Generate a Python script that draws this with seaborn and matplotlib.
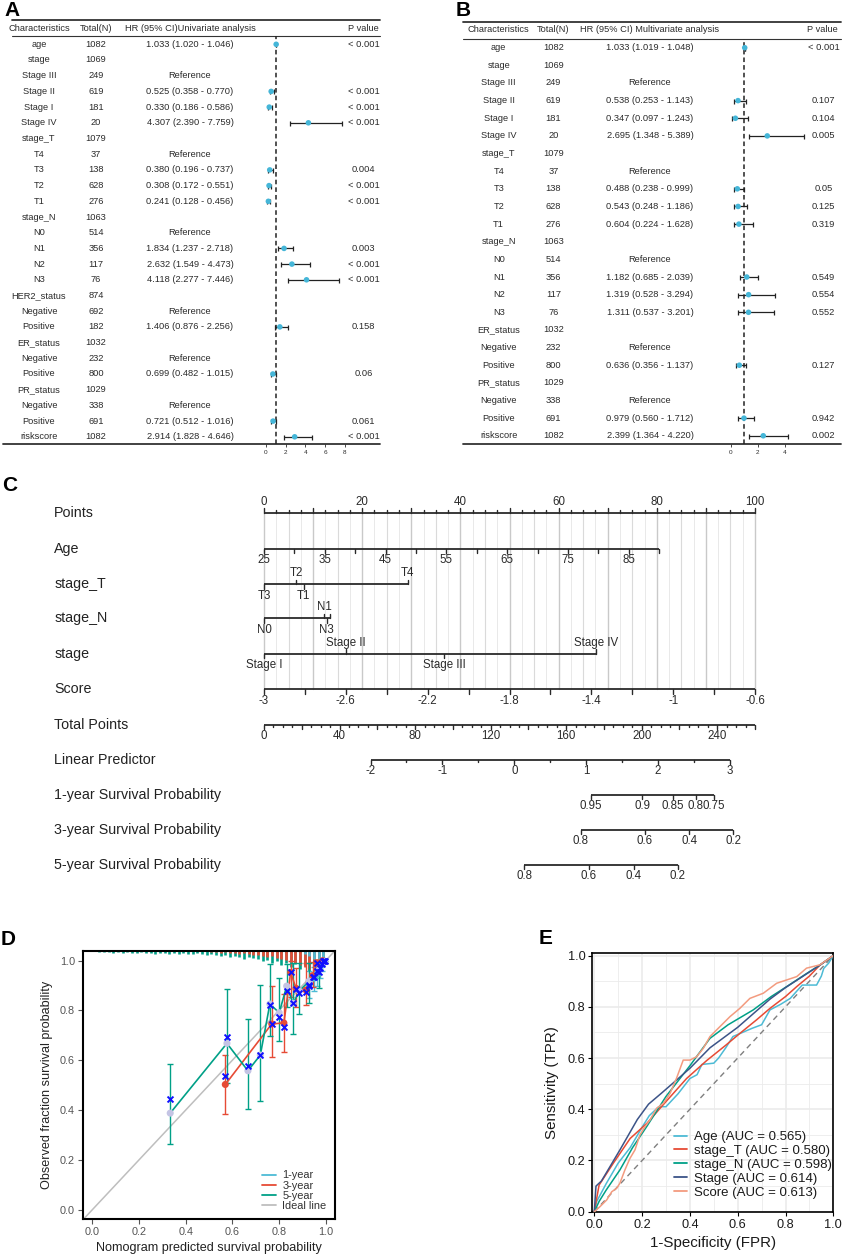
import numpy as np
import pandas as pd
import matplotlib
matplotlib.use("Agg")
import matplotlib.pyplot as plt
from matplotlib.lines import Line2D
from matplotlib import font_manager
import seaborn as sns

nan = np.nan

# ---------------- Panel A : univariate ----------------
A_char = ['age', 'stage', 'Stage III', 'Stage II', 'Stage I', 'Stage IV', 'stage_T', 'T4', 'T3', 'T2', 'T1',
          'stage_N', 'N0', 'N1', 'N2', 'N3', 'HER2_status', 'Negative', 'Positive', 'ER_status', 'Negative',
          'Positive', 'PR_status', 'Negative', 'Positive', 'riskscore']
A_total = [1082, 1069, 249, 619, 181, 20, 1079, 37, 138, 628, 276, 1063, 514, 356, 117, 76, 874, 692, 182,
           1032, 232, 800, 1029, 338, 691, 1082]
A_hr = [1.033, nan, nan, 0.525, 0.330, 4.307, nan, nan, 0.380, 0.308, 0.241, nan, nan, 1.834, 2.632, 4.118,
        nan, nan, 1.406, nan, nan, 0.699, nan, nan, 0.721, 2.914]
A_lo = [1.020, nan, nan, 0.358, 0.186, 2.390, nan, nan, 0.196, 0.172, 0.128, nan, nan, 1.237, 1.549, 2.277,
        nan, nan, 0.876, nan, nan, 0.482, nan, nan, 0.512, 1.828]
A_hi = [1.046, nan, nan, 0.770, 0.586, 7.759, nan, nan, 0.737, 0.551, 0.456, nan, nan, 2.718, 4.473, 7.446,
        nan, nan, 2.256, nan, nan, 1.015, nan, nan, 1.016, 4.646]
A_ref = [0, 0, 1, 0, 0, 0, 0, 1, 0, 0, 0, 0, 1, 0, 0, 0, 0, 1, 0, 0, 1, 0, 0, 1, 0, 0]
A_p = ['< 0.001', '', '', '< 0.001', '< 0.001', '< 0.001', '', '', '0.004', '< 0.001', '< 0.001', '', '',
       '0.003', '< 0.001', '< 0.001', '', '', '0.158', '', '', '0.06', '', '', '0.061', '< 0.001']

# ---------------- Panel B : multivariate ----------------
B_char = ['age', 'stage', 'Stage III', 'Stage II', 'Stage I', 'Stage IV', 'stage_T', 'T4', 'T3', 'T2', 'T1',
          'stage_N', 'N0', 'N1', 'N2', 'N3', 'ER_status', 'Negative', 'Positive', 'PR_status', 'Negative',
          'Positive', 'riskscore']
B_total = [1082, 1069, 249, 619, 181, 20, 1079, 37, 138, 628, 276, 1063, 514, 356, 117, 76, 1032, 232, 800,
           1029, 338, 691, 1082]
B_hr = [1.033, nan, nan, 0.538, 0.347, 2.695, nan, nan, 0.488, 0.543, 0.604, nan, nan, 1.182, 1.319, 1.311,
        nan, nan, 0.636, nan, nan, 0.979, 2.399]
B_lo = [1.019, nan, nan, 0.253, 0.097, 1.348, nan, nan, 0.238, 0.248, 0.224, nan, nan, 0.685, 0.528, 0.537,
        nan, nan, 0.356, nan, nan, 0.560, 1.364]
B_hi = [1.048, nan, nan, 1.143, 1.243, 5.389, nan, nan, 0.999, 1.186, 1.628, nan, nan, 2.039, 3.294, 3.201,
        nan, nan, 1.137, nan, nan, 1.712, 4.220]
B_ref = [0, 0, 1, 0, 0, 0, 0, 1, 0, 0, 0, 0, 1, 0, 0, 0, 0, 1, 0, 0, 1, 0, 0]
B_p = ['< 0.001', '', '', '0.107', '0.104', '0.005', '', '', '0.05', '0.125', '0.319', '', '', '0.549',
       '0.554', '0.552', '', '', '0.127', '', '', '0.942', '0.002']

# ---------------- Panel C : nomogram scales (values -> points) ----------------
nomo_rows = ['Points', 'Age', 'stage_T', 'stage_N', 'stage', 'Score', 'Total Points', 'Linear Predictor',
             '1-year Survival Probability', '3-year Survival Probability', '5-year Survival Probability']
points_labels = [0, 20, 40, 60, 80, 100]
age_ticks = [25, 30, 35, 40, 45, 50, 55, 60, 65, 70, 75, 80, 85, 90]
age_labels = [25, 35, 45, 55, 65, 75, 85]
age_range, age_pts_range = [25, 90], [0, 80.5]
stageT_lv = ['T3', 'T2', 'T1', 'T4']
stageT_pts = [0, 6.6, 8.1, 29.3]
stageT_up = [False, True, False, True]
stageN_lv = ['N0', 'N1', 'N3', 'N2']
stageN_pts = [0, 12.25, 12.8, 13.5]
stageN_up = [False, True, False, True]
stageN_show = [True, True, True, False]
stage_lv = ['Stage I', 'Stage II', 'Stage III', 'Stage IV']
stage_pts = [0, 16.6, 36.7, 67.6]
stage_up = [False, True, False, True]
score_range, score_pts_range = [-3.0, -0.6], [0, 100]
score_labels = ['-3', '-2.6', '-2.2', '-1.8', '-1.4', '-1', '-0.6']
total_range = [0, 260]
total_labels = [0, 40, 80, 120, 160, 200, 240]
lp_range, lp_pts_range = [-2, 3], [21.7, 94.9]
lp_labels = [-2, -1, 0, 1, 2, 3]
s1_vals = ['0.95', '0.9', '0.85', '0.8', '0.75']
s1_pts = [66.5, 77.0, 83.3, 87.9, 91.7]
s3_vals = ['0.8', '0.6', '0.4', '0.2']
s3_pts = [64.5, 77.5, 86.6, 95.6]
s5_vals = ['0.8', '0.6', '0.4', '0.2']
s5_pts = [53.0, 66.2, 75.3, 84.3]

# ---------------- Panel D : calibration ----------------
cal1_pred = [0.930, 0.950, 0.962, 0.975, 0.985, 0.995]
cal1_obs = [0.905, 0.930, 0.945, 0.965, 0.985, 0.998]
cal1_lo = [0.850, 0.880, 0.900, 0.930, 0.960, 0.990]
cal1_hi = [0.960, 0.975, 0.985, 0.990, 1.000, 1.000]
cal1_bc = [0.900, 0.936, 0.958, 0.970, 0.985, 1.000]
cal3_pred = [0.570, 0.769, 0.821, 0.850, 0.873, 0.916, 0.944, 0.963, 0.987]
cal3_obs = [0.503, 0.746, 0.750, 0.953, 0.889, 0.882, 0.940, 0.992, 1.000]
cal3_lo = [0.383, 0.614, 0.635, 0.855, 0.815, 0.822, 0.896, 0.960, 0.990]
cal3_hi = [0.620, 0.898, 0.865, 1.000, 0.970, 0.990, 0.996, 1.000, 1.000]
cal3_bc = [0.537, 0.744, 0.734, 0.953, 0.885, 0.875, 0.935, 0.990, 0.998]
cal5_pred = [0.334, 0.577, 0.667, 0.720, 0.761, 0.801, 0.833, 0.861, 0.887, 0.929, 0.973, 0.997]
cal5_obs = [0.388, 0.668, 0.558, 0.621, 0.826, 0.791, 0.898, 0.829, 0.878, 0.918, 0.962, 0.996]
cal5_lo = [0.265, 0.507, 0.406, 0.438, 0.699, 0.679, 0.815, 0.707, 0.784, 0.831, 0.889, 0.990]
cal5_hi = [0.584, 0.885, 0.767, 0.902, 0.985, 0.929, 0.987, 0.989, 0.990, 0.990, 0.996, 1.000]
cal5_bc = [0.446, 0.693, 0.577, 0.621, 0.822, 0.774, 0.880, 0.829, 0.869, 0.902, 0.956, 0.999]
# distribution of predictions (rug at top), heights in pixels
rug5_x = np.round(np.arange(0.03, 1.0, 0.02), 2)
rug5_h = [1, 1, 1, 2, 1, 2, 1, 2, 2, 1, 2, 2, 3, 2, 2, 3, 2, 3, 2, 3, 3, 2, 3, 4, 3, 4, 5, 4, 6, 5, 6, 8, 6, 7,
          8, 10, 9, 12, 10, 14, 12, 16, 13, 18, 15, 20, 16, 18, 14]
rug3_x = np.round(np.arange(0.51, 1.0, 0.02), 2)
rug3_h = [1, 1, 2, 1, 2, 2, 3, 2, 3, 4, 4, 5, 6, 5, 7, 8, 9, 10, 12, 14, 16, 18, 20, 17, 12]
rug1_x = np.round(np.arange(0.91, 1.0, 0.02), 2)
rug1_h = [3, 5, 8, 12, 16]

# ---------------- Panel E : ROC ----------------
roc_models = ['Age (AUC = 0.565)', 'stage_T (AUC = 0.580)', 'stage_N (AUC = 0.598)', 'Stage (AUC = 0.614)',
              'Score (AUC = 0.613)']
age_fpr = [0, 0.01, 0.05, 0.10, 0.15, 0.20, 0.23, 0.27, 0.30, 0.35, 0.40, 0.43, 0.45, 0.50, 0.52, 0.55, 0.58,
           0.62, 0.66, 0.70, 0.735, 0.78, 0.82, 0.87, 0.92, 0.93, 0.95, 0.96, 0.98, 1.0]
age_tpr = [0, 0.04, 0.11, 0.19, 0.25, 0.33, 0.375, 0.41, 0.41, 0.46, 0.52, 0.535, 0.575, 0.58, 0.60, 0.64, 0.684,
           0.70, 0.716, 0.73, 0.788, 0.81, 0.833, 0.885, 0.885, 0.885, 0.92, 0.95, 0.97, 1.0]
t_fpr = [0, 0.02, 0.08, 0.15, 0.22, 0.30, 0.386, 0.47, 0.55, 0.61, 0.68, 0.735, 0.80, 0.847, 0.90, 0.944, 1.0]
t_tpr = [0, 0.104, 0.19, 0.286, 0.345, 0.43, 0.52, 0.59, 0.65, 0.697, 0.75, 0.794, 0.84, 0.879, 0.92, 0.963, 1.0]
n_fpr = [0, 0.02, 0.05, 0.107, 0.16, 0.219, 0.30, 0.40, 0.484, 0.56, 0.665, 0.74, 0.805, 0.88, 0.944, 1.0]
n_tpr = [0, 0.04, 0.085, 0.163, 0.25, 0.332, 0.45, 0.57, 0.677, 0.73, 0.788, 0.84, 0.879, 0.925, 0.963, 1.0]
s_fpr = [0, 0.007, 0.03, 0.107, 0.18, 0.227, 0.28, 0.344, 0.40, 0.484, 0.60, 0.735, 0.80, 0.874, 0.944, 1.0]
s_tpr = [0, 0.10, 0.12, 0.241, 0.36, 0.42, 0.462, 0.514, 0.56, 0.64, 0.72, 0.83, 0.875, 0.92, 0.963, 1.0]
sc_fpr = [0, 0.024, 0.052, 0.073, 0.093, 0.107, 0.128, 0.149, 0.17, 0.191, 0.212, 0.233, 0.261, 0.289, 0.317,
          0.344, 0.372, 0.40, 0.428, 0.456, 0.484, 0.526, 0.568, 0.609, 0.651, 0.707, 0.763, 0.805, 0.847, 0.888,
          0.944, 1.0]
sc_tpr = [0, 0.02, 0.046, 0.078, 0.091, 0.111, 0.163, 0.208, 0.241, 0.30, 0.332, 0.358, 0.404, 0.423, 0.462,
          0.521, 0.592, 0.592, 0.605, 0.638, 0.684, 0.723, 0.762, 0.794, 0.833, 0.853, 0.892, 0.905, 0.918, 0.951,
          0.964, 1.0]

# ================= styling =================
sns.set_theme(style="white")
avail = {f.name for f in font_manager.fontManager.ttflist}
BASE = "Liberation Sans" if "Liberation Sans" in avail else "DejaVu Sans"
NARROW = "Liberation Sans Narrow" if "Liberation Sans Narrow" in avail else BASE
plt.rcParams["font.family"] = [BASE, "DejaVu Sans"]
plt.rcParams["axes.unicode_minus"] = False

CYAN, RED, GREEN, NAVY, SALMON = "#4DBBD5", "#E64B35", "#00A087", "#3C5488", "#F39B7F"
TXT = "#2b2b2b"

W, H = 844, 1258
fig = plt.figure(figsize=(W / 100, H / 100), dpi=100)
fig.patch.set_facecolor("white")


def rect(x0, y0, x1, y1):
    return [x0 / W, 1 - y1 / H, (x1 - x0) / W, (y1 - y0) / H]


ov = fig.add_axes([0, 0, 1, 1], zorder=5)
ov.set_xlim(0, W)
ov.set_ylim(H, 0)
ov.axis("off")

# panel letters
for s, x, y in [("A", 4, 1), ("B", 456, 1), ("C", 2, 476), ("D", 1, 930), ("E", 539, 929)]:
    ov.text(x, y, s, fontsize=15, fontweight="bold", ha="left", va="top", color="black")


# ================= Panels A & B =================
def draw_forest(chars, totals, hr, lo, hi, ref, pv, hdr, g):
    n = len(chars)
    heads = ["Characteristics", "Total(N)", hdr, "P value"]
    for x, s in zip(g["hx"], heads):
        ov.text(x, g["hdr_y"], s, ha="center", va="center", fontsize=6.7, color=TXT)
    for i in range(n):
        yy = g["row0"] + g["dy"] * i
        if ref[i]:
            ht = "Reference"
        elif not np.isnan(hr[i]):
            ht = f"{hr[i]:.3f} ({lo[i]:.3f} - {hi[i]:.3f})"
        else:
            ht = ""
        for x, s in zip(g["cx"], [chars[i], str(totals[i]), ht, pv[i]]):
            ov.text(x, yy, s, ha="center", va="center", fontsize=6.7, color=TXT)
    ov.plot([g["x0"], g["x1"]], [g["ytop"]] * 2, color="#333333", lw=1.3)
    ov.plot([g["x0"], g["x1"]], [g["yhl"]] * 2, color="#333333", lw=0.8)
    ov.plot([g["xb0"], g["x1"]], [g["ybot"]] * 2, color="#333333", lw=1.3)

    fax = fig.add_axes(rect(g["fx0"], g["yhl"], g["fx1"], g["ybot"]), zorder=6)
    fax.patch.set_alpha(0)
    df = pd.DataFrame({"row": np.arange(n), "hr": hr, "lo": lo, "hi": hi}).dropna()
    fax.errorbar(df["hr"], df["row"], xerr=[df["hr"] - df["lo"], df["hi"] - df["hr"]], fmt="none",
                 ecolor="#222222", elinewidth=0.9, capsize=1.8, capthick=0.9, zorder=2)
    sns.scatterplot(data=df, x="hr", y="row", ax=fax, color="#45B6D8", s=16, edgecolor="none", zorder=3,
                    legend=False)
    fax.axvline(1, color="#222222", ls=(0, (3, 2)), lw=1.1, zorder=1)
    fax.set_xlim((g["fx0"] - g["xzero"]) / g["ppu"], (g["fx1"] - g["xzero"]) / g["ppu"])
    fax.set_ylim((g["ybot"] - g["row0"]) / g["dy"], (g["yhl"] - g["row0"]) / g["dy"])
    fax.set_xticks(g["ticks"])
    fax.set_yticks([])
    fax.set_xlabel("")
    fax.set_ylabel("")
    for sp in fax.spines.values():
        sp.set_visible(False)
    fax.tick_params(axis="x", bottom=True, length=2, width=0.6, pad=2, labelsize=4.6, colors=TXT)


gA = dict(row0=44.3, dy=15.7, hdr_y=28.3, hx=[39.2, 96.2, 190, 363.6], cx=[39, 96, 190, 363.5],
          x0=12, x1=380, xb0=3, ytop=20, yhl=36, ybot=444.3, fx0=250, fx1=362, xzero=266, ppu=9.84,
          ticks=[0, 2, 4, 6, 8])
gB = dict(row0=47.7, dy=17.64, hdr_y=30, hx=[498.8, 552.8, 650, 822], cx=[498.7, 553.3, 650, 823.5],
          x0=462.7, x1=840.5, xb0=462.7, ytop=21.7, yhl=38.7, ybot=444.3, fx0=715, fx1=815, xzero=730.7,
          ppu=13.57, ticks=[0, 2, 4])
draw_forest(A_char, A_total, A_hr, A_lo, A_hi, A_ref, A_p, "HR (95% CI)Univariate analysis", gA)
draw_forest(B_char, B_total, B_hr, B_lo, B_hi, B_ref, B_p, "HR (95% CI) Multivariate analysis", gB)

# ================= Panel C : nomogram =================
PX0, PPX = 264.0, 4.91
nax = fig.add_axes(rect(0, 470, W, 900), zorder=4)
nax.set_xlim(-PX0 / PPX, (W - PX0) / PPX)
nax.set_ylim(900, 470)
nax.axis("off")
row_y = [513, 549, 584.3, 618.5, 654, 689.5, 725, 760, 795, 830, 865]
LC = "#2a2a2a"
TFS = 8.3
LBL_X = (54.3 - PX0) / PPX


def scale_line(y, p0, p1):
    nax.plot([p0, p1], [y, y], color=LC, lw=1.3, solid_capstyle="butt", zorder=3)


def tick(p, y, length, up=False):
    nax.plot([p, p], [y, y - length if up else y + length], color=LC, lw=1.0, zorder=3)


def tlabel(p, y, s, up=False):
    nax.text(p, y - 11 if up else y + 11.5, s, ha="center", va="center", fontsize=TFS, family=NARROW,
             color=LC)


for lab, y in zip(nomo_rows, row_y):
    nax.text(LBL_X, y, lab, ha="left", va="center", fontsize=10.3, color="#222222")

# vertical reference lines
for p in np.arange(0, 100.01, 2.5):
    if p % 10 == 0:
        c, lw = "#C9C9C9", 1.0
    elif p % 5 == 0:
        c, lw = "#DADADA", 0.8
    else:
        c, lw = "#E9E9E9", 0.7
    nax.plot([p, p], [row_y[0], row_y[5]], color=c, lw=lw, zorder=1)

# Points
y = row_y[0]
scale_line(y, 0, 100)
for p in np.arange(0, 100.01, 2.5):
    tick(p, y, 4.5 if p % 10 == 0 else 2.5, up=True)
for v in points_labels:
    tlabel(v, y, str(v), up=True)
# Age
y = row_y[1]
age_p = np.interp(age_ticks, age_range, age_pts_range)
scale_line(y, age_p[0], age_p[-1])
for a, p in zip(age_ticks, age_p):
    tick(p, y, 4.5)
    if a in age_labels:
        tlabel(p, y, str(a))
# categorical rows
for y, lv, pts, ups, show in [(row_y[2], stageT_lv, stageT_pts, stageT_up, [True] * 4),
                              (row_y[3], stageN_lv, stageN_pts, stageN_up, stageN_show),
                              (row_y[4], stage_lv, stage_pts, stage_up, [True] * 4)]:
    scale_line(y, min(pts), max(pts))
    for s, p, u, sh in zip(lv, pts, ups, show):
        tick(p, y, 4.5, up=u)
        if sh:
            tlabel(p, y, s, up=u)
# Score
y = row_y[5]
sc_ticks = np.round(np.arange(score_range[0], score_range[1] + 1e-9, 0.2), 2)
sc_p = np.interp(sc_ticks, score_range, score_pts_range)
scale_line(y, 0, 100)
for v, p in zip(sc_ticks, sc_p):
    tick(p, y, 4.5)
for s in score_labels:
    tlabel(np.interp(float(s), score_range, score_pts_range), y, s)
# Total points
y = row_y[6]
scale_line(y, 0, 100)
for v in np.arange(0, 260.1, 5):
    tick(v / total_range[1] * 100, y, 4.5 if v % 20 == 0 else 2.5)
for v in total_labels:
    tlabel(v / total_range[1] * 100, y, str(v))
# Linear predictor
y = row_y[7]
scale_line(y, lp_pts_range[0], lp_pts_range[1])
for v in np.arange(lp_range[0], lp_range[1] + 0.01, 0.5):
    tick(np.interp(v, lp_range, lp_pts_range), y, 4.5 if v % 1 == 0 else 2.5)
for v in lp_labels:
    tlabel(np.interp(v, lp_range, lp_pts_range), y, str(v))
# survival probabilities
for y, vals, pts in [(row_y[8], s1_vals, s1_pts), (row_y[9], s3_vals, s3_pts), (row_y[10], s5_vals, s5_pts)]:
    scale_line(y, min(pts), max(pts))
    for s, p in zip(vals, pts):
        tick(p, y, 4.5)
        tlabel(p, y, s)

# ================= Panel D : calibration =================
dax = fig.add_axes(rect(82.7, 950.7, 335, 1219), zorder=4)
dax.set_xlim(-0.041, 1.04)
dax.set_ylim(-0.037, 1.04)
PX = 0.004
top = 1.04
for xs, hs, col in [(rug5_x, rug5_h, GREEN), (rug3_x, rug3_h, RED), (rug1_x, rug1_h, CYAN)]:
    dax.vlines(xs, top - np.array(hs) * PX, top, color=col, lw=1.9, zorder=2)
dax.axline((0, 0), (1, 1), color="#BEBEBE", lw=1.1, zorder=1)
series = [("1-year", cal1_pred, cal1_obs, cal1_lo, cal1_hi, cal1_bc, CYAN, CYAN),
          ("3-year", cal3_pred, cal3_obs, cal3_lo, cal3_hi, cal3_bc, RED, RED),
          ("5-year", cal5_pred, cal5_obs, cal5_lo, cal5_hi, cal5_bc, GREEN, "#C4C4E4")]
for name, pr, ob, lo, hi, bc, col, ccol in series:
    d = pd.DataFrame({"pred": pr, "obs": ob, "lo": lo, "hi": hi, "bc": bc})
    dax.errorbar(d["pred"], d["obs"], yerr=[d["obs"] - d["lo"], d["hi"] - d["obs"]], fmt="none",
                 ecolor=col, elinewidth=1.0, capsize=2.2, capthick=1.0, zorder=3)
    sns.lineplot(data=d, x="pred", y="obs", ax=dax, color=col, lw=1.2, sort=False, estimator=None, zorder=4)
    sns.scatterplot(data=d, x="pred", y="obs", ax=dax, color=ccol, s=26, edgecolor="none", zorder=5)
    sns.scatterplot(data=d, x="pred", y="bc", ax=dax, color="#1010FF", marker="x", s=18, linewidth=1.4,
                    zorder=6)
dax.set_xticks([0, 0.2, 0.4, 0.6, 0.8, 1.0])
dax.set_yticks([0, 0.2, 0.4, 0.6, 0.8, 1.0])
dax.set_xticklabels(["0.0", "0.2", "0.4", "0.6", "0.8", "1.0"])
dax.set_yticklabels(["0.0", "0.2", "0.4", "0.6", "0.8", "1.0"])
dax.tick_params(axis="both", length=3.5, width=0.8, color="#555555", labelcolor="#555555", labelsize=7.8,
                pad=2, left=True, bottom=True, direction="out")
for sp in dax.spines.values():
    sp.set_visible(True)
    sp.set_color("black")
    sp.set_linewidth(1.5)
dax.set_xlabel("Nomogram predicted survival probability", fontsize=9.1, color="#222222", labelpad=4)
dax.set_ylabel("Observed fraction survival probability", fontsize=9.1, color="#222222", labelpad=5)
hD = [Line2D([], [], color=c, lw=1.3) for c in [CYAN, RED, GREEN, "#BEBEBE"]]
dax.legend(hD, ["1-year", "3-year", "5-year", "Ideal line"], loc="upper left",
           bbox_to_anchor=(262 / W, 1 - 1170.5 / H), bbox_transform=fig.transFigure, frameon=False,
           fontsize=7.9, handlelength=1.3, handletextpad=0.55, labelspacing=0.02, borderpad=0,
           borderaxespad=0, labelcolor="#333333")

# ================= Panel E : ROC =================
eax = fig.add_axes(rect(592.3, 953.3, 833.3, 1211.7), zorder=4)
eax.set_xlim(-0.0084, 1.0)
eax.set_ylim(0, 1.009)
eax.set_facecolor("white")
for v in np.arange(0, 1.01, 0.1):
    major = abs(v * 5 - round(v * 5)) < 1e-6
    eax.axvline(v, color="#EBEBEB", lw=1.2 if major else 0.6, zorder=0)
    eax.axhline(v, color="#EBEBEB", lw=1.2 if major else 0.6, zorder=0)
roc = pd.concat([
    pd.DataFrame({"fpr": f, "tpr": t, "model": m})
    for f, t, m in zip([age_fpr, t_fpr, n_fpr, s_fpr, sc_fpr], [age_tpr, t_tpr, n_tpr, s_tpr, sc_tpr], roc_models)
])
pal = dict(zip(roc_models, [CYAN, RED, GREEN, NAVY, SALMON]))
eax.plot([0, 1], [0, 1], color="#7F7F7F", ls=(0, (4, 3)), lw=1.0, zorder=1)
sns.lineplot(data=roc, x="fpr", y="tpr", hue="model", palette=pal, sort=False, estimator=None, ax=eax,
             lw=1.1, legend=False, zorder=3)
eax.set_xticks([0, 0.2, 0.4, 0.6, 0.8, 1.0])
eax.set_yticks([0, 0.2, 0.4, 0.6, 0.8, 1.0])
eax.set_xticklabels(["0.0", "0.2", "0.4", "0.6", "0.8", "1.0"])
eax.set_yticklabels(["0.0", "0.2", "0.4", "0.6", "0.8", "1.0"])
eax.tick_params(axis="both", length=3, width=0.8, color="black", labelcolor="#1a1a1a", labelsize=9.2, pad=2,
                left=True, bottom=True, direction="out")
for sp in eax.spines.values():
    sp.set_visible(True)
    sp.set_color("black")
    sp.set_linewidth(1.2)
eax.set_xlabel("1-Specificity (FPR)", fontsize=10.9, color="#1a1a1a", labelpad=4)
eax.set_ylabel("Sensitivity (TPR)", fontsize=10.9, color="#1a1a1a", labelpad=6)
hE = [Line2D([], [], color=pal[m], lw=1.3) for m in roc_models]
eax.legend(hE, roc_models, loc="upper left", bbox_to_anchor=(674 / W, 1 - 1131 / H),
           bbox_transform=fig.transFigure, frameon=False, fontsize=9.5, handlelength=0.95, handletextpad=0.55,
           labelspacing=0.12, borderpad=0, borderaxespad=0, labelcolor="#1a1a1a")

fig.savefig("out.png", dpi=100, facecolor="white")
